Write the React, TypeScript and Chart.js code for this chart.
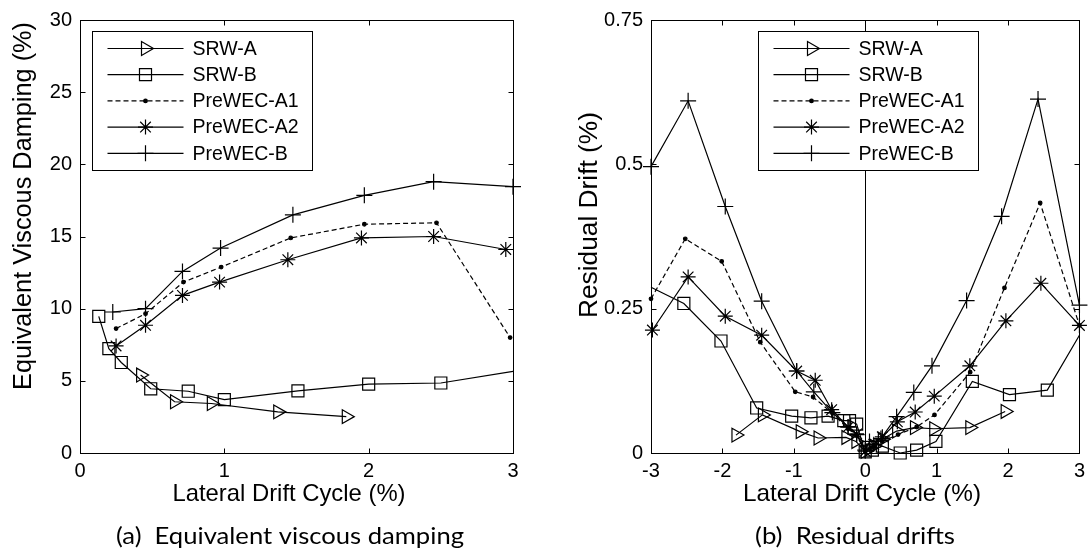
import React, { useEffect, useRef } from 'react';
import { Chart, registerables } from 'chart.js';
import { drawPoint } from 'chart.js/helpers';

Chart.register(...registerables);

// ---------- data ----------
const seriesNames = ['SRW-A', 'SRW-B', 'PreWEC-A1', 'PreWEC-A2', 'PreWEC-B'];

// (a) Equivalent viscous damping (%) vs lateral drift cycle (%)
const dampSrwAX = [0.42, 0.655, 0.91, 1.37, 1.845];
const dampSrwAY = [5.4, 3.55, 3.43, 2.85, 2.52];
const dampSrwBX = [0.13, 0.2, 0.286, 0.49, 0.75, 1.0, 1.51, 2.0, 2.5, 3.0];
const dampSrwBY = [9.47, 7.23, 6.27, 4.45, 4.28, 3.7, 4.3, 4.77, 4.85, 5.65];
const dampA1X = [0.25, 0.454, 0.717, 0.978, 1.46, 1.97, 2.47, 2.98];
const dampA1Y = [8.62, 9.65, 11.84, 12.88, 14.9, 15.85, 15.95, 8.0];
const dampA2X = [0.25, 0.454, 0.71, 0.967, 1.44, 1.95, 2.45, 2.95];
const dampA2Y = [7.42, 8.85, 10.92, 11.84, 13.39, 14.9, 15.0, 14.1];
const dampBX = [0.227, 0.454, 0.71, 0.974, 1.475, 1.97, 2.45, 3.0];
const dampBY = [9.77, 10.0, 12.58, 14.2, 16.5, 17.85, 18.8, 18.45];

// (b) Residual drift (%) vs lateral drift cycle (%)
const resSrwAX = [-1.81, -1.44, -0.91, -0.66, -0.27, -0.13, 0, 0.12, 0.24, 0.44, 0.69, 0.96, 1.465, 1.96];
const resSrwAY = [0.031, 0.066, 0.037, 0.026, 0.027, 0.02, 0.003, 0.012, 0.024, 0.038, 0.044, 0.042, 0.044, 0.072];
const resSrwBX = [-3.0, -2.54, -2.02, -1.52, -1.03, -0.76, -0.52, -0.3, -0.22, -0.12, 0, 0.1, 0.24, 0.49, 0.72, 0.99, 1.5, 2.02, 2.55, 3.0];
const resSrwBY = [0.287, 0.259, 0.194, 0.078, 0.064, 0.061, 0.064, 0.056, 0.056, 0.05, 0.002, 0.005, 0.012, 0.0, 0.005, 0.02, 0.124, 0.101, 0.109, 0.204];
const resA1X = [-3.0, -2.52, -2.01, -1.47, -0.98, -0.73, -0.47, -0.24, -0.12, 0, 0.12, 0.24, 0.46, 0.72, 0.97, 1.47, 1.95, 2.45, 3.0];
const resA1Y = [0.267, 0.371, 0.332, 0.192, 0.106, 0.097, 0.07, 0.042, 0.03, 0.003, 0.01, 0.02, 0.032, 0.045, 0.066, 0.14, 0.286, 0.433, 0.221];
const resA2X = [-2.98, -2.48, -1.96, -1.45, -0.96, -0.7, -0.47, -0.24, -0.12, 0, 0.12, 0.24, 0.45, 0.7, 0.967, 1.465, 1.97, 2.46, 3.0];
const resA2Y = [0.213, 0.305, 0.237, 0.204, 0.142, 0.126, 0.075, 0.045, 0.033, 0.003, 0.015, 0.028, 0.054, 0.071, 0.0985, 0.151, 0.229, 0.294, 0.221];
const resBX = [-3.0, -2.48, -1.96, -1.45, -0.96, -0.72, -0.46, -0.24, -0.12, 0, 0.06, 0.22, 0.44, 0.68, 0.935, 1.42, 1.91, 2.42, 3.0];
const resBY = [0.496, 0.61, 0.427, 0.263, 0.142, 0.106, 0.07, 0.045, 0.032, 0.005, 0.02, 0.025, 0.063, 0.105, 0.151, 0.264, 0.41, 0.613, 0.256];

// ticks
const dampXTicks = [0, 1, 2, 3];
const dampXLabels = ['0', '1', '2', '3'];
const dampYTicks = [0, 5, 10, 15, 20, 25, 30];
const dampYLabels = ['0', '5', '10', '15', '20', '25', '30'];
const resXTicks = [-3, -2, -1, 0, 1, 2, 3];
const resXLabels = ['-3', '-2', '-1', '0', '1', '2', '3'];
const resYTicks = [0, 0.25, 0.5, 0.75];
const resYLabels = ['0', '0.25', '0.5', '0.75'];

// texts
const xTitle = 'Lateral Drift Cycle (%)';
const dampYTitle = 'Equivalent Viscous Damping (%)';
const resYTitle = 'Residual Drift (%)';
const dampCaption = '(a)  Equivalent viscous damping';
const resCaption = '(b)  Residual drifts';

// ---------- styles ----------
const ARIAL = '"Liberation Sans", Arial, sans-serif';
const seriesStyles = [
  { pointStyle: 'triangle', rotation: 90, radius: 8, fill: 'rgba(0,0,0,0)', dash: [] as number[] },
  { pointStyle: 'rect', rotation: 0, radius: 8.5, fill: 'rgba(0,0,0,0)', dash: [] as number[] },
  { pointStyle: 'circle', rotation: 0, radius: 1.8, fill: '#000', dash: [5, 3] },
  { pointStyle: 'star', rotation: 0, radius: 7.5, fill: 'rgba(0,0,0,0)', dash: [] as number[] },
  { pointStyle: 'cross', rotation: 0, radius: 8, fill: 'rgba(0,0,0,0)', dash: [] as number[] },
];
const hideEdgeMarker = [false, true, false, false, false];

function makeDatasets(xs: number[][], ys: number[][]) {
  return seriesNames.map((name, i) => {
    const st = seriesStyles[i];
    const data = xs[i].map((x, j) => ({ x, y: ys[i][j] }));
    return {
      label: name,
      data,
      showLine: true,
      tension: 0,
      borderColor: '#000',
      borderWidth: 1.2,
      borderDash: st.dash,
      pointStyle: st.pointStyle,
      pointRotation: st.rotation,
      pointRadius: data.map((p) => (hideEdgeMarker[i] && Math.abs(p.x) >= 3 ? 0 : st.radius)),
      pointHoverRadius: st.radius,
      pointBorderColor: '#000',
      pointBackgroundColor: st.fill,
      pointBorderWidth: 1.2,
      clip: 14,
    };
  });
}

function fitText(ctx: CanvasRenderingContext2D, text: string, cx: number, cy: number, font: string, width: number, rotate = false) {
  ctx.save();
  ctx.font = font;
  const w = ctx.measureText(text).width;
  const s = width / w;
  ctx.translate(cx, cy);
  if (rotate) ctx.rotate(-Math.PI / 2);
  ctx.scale(s, 1);
  ctx.textAlign = 'center';
  ctx.textBaseline = 'middle';
  ctx.fillStyle = '#000';
  ctx.fillText(text, 0, 0);
  ctx.restore();
}

type Deco = {
  zeroLine: boolean;
  legendLeft: number;
  yTitle: string; yTitleX: number; yTitleY: number; yTitleW: number;
  xTitleX: number; xTitleW: number;
  caption: string; captionX: number; captionW: number;
};

function decoPlugin(d: Deco) {
  return {
    id: 'deco',
    beforeDatasetsDraw(chart: any) {
      const { ctx, chartArea: a, scales } = chart;
      if (d.zeroLine) {
        const px = Math.round(scales.x.getPixelForValue(0)) + 0.5;
        ctx.save();
        ctx.strokeStyle = '#000';
        ctx.lineWidth = 1;
        ctx.beginPath();
        ctx.moveTo(px, a.top);
        ctx.lineTo(px, a.bottom);
        ctx.stroke();
        ctx.restore();
      }
    },
    afterDraw(chart: any) {
      const { ctx, chartArea: a, scales } = chart;
      ctx.save();
      ctx.strokeStyle = '#000';
      ctx.lineWidth = 1;
      ctx.setLineDash([]);
      const L = Math.round(a.left) + 0.5, R = Math.round(a.right) + 0.5;
      const T = Math.round(a.top) + 0.5, B = Math.round(a.bottom) + 0.5;
      ctx.strokeRect(L, T, R - L, B - T);
      const tl = 5;
      ctx.beginPath();
      scales.x.ticks.forEach((t: any) => {
        const px = Math.round(scales.x.getPixelForValue(t.value)) + 0.5;
        ctx.moveTo(px, B); ctx.lineTo(px, B - tl);
        ctx.moveTo(px, T); ctx.lineTo(px, T + tl);
      });
      scales.y.ticks.forEach((t: any) => {
        const py = Math.round(scales.y.getPixelForValue(t.value)) + 0.5;
        ctx.moveTo(L, py); ctx.lineTo(L + tl, py);
        ctx.moveTo(R, py); ctx.lineTo(R - tl, py);
      });
      ctx.stroke();

      // legend
      const lx = d.legendLeft + 0.5, ly = 31.5, lw = 220, lh = 139;
      ctx.fillStyle = '#fff';
      ctx.fillRect(lx, ly, lw, lh);
      ctx.strokeRect(lx, ly, lw, lh);
      seriesNames.forEach((name, i) => {
        const st = seriesStyles[i];
        const ry = 48.5 + i * 26.2;
        ctx.save();
        ctx.strokeStyle = '#000';
        ctx.lineWidth = 1.2;
        ctx.setLineDash(st.dash);
        ctx.beginPath();
        ctx.moveTo(lx + 15, ry);
        ctx.lineTo(lx + 91, ry);
        ctx.stroke();
        ctx.setLineDash([]);
        ctx.fillStyle = st.fill;
        drawPoint(ctx, { pointStyle: st.pointStyle as any, rotation: st.rotation, radius: st.radius, borderWidth: 1.2 }, lx + 53, ry);
        ctx.restore();
        ctx.fillStyle = '#000';
        ctx.font = `19.5px ${ARIAL}`;
        ctx.textAlign = 'left';
        ctx.textBaseline = 'middle';
        ctx.fillText(name, lx + 100, ry + 1);
      });
      ctx.restore();

      // titles
      fitText(ctx, d.yTitle, d.yTitleX, d.yTitleY, `25px ${ARIAL}`, d.yTitleW, true);
      fitText(ctx, xTitle, d.xTitleX, 494, `24px ${ARIAL}`, d.xTitleW);
      fitText(ctx, d.caption, d.captionX, 536, `24px Lato, "Open Sans", sans-serif`, d.captionW);
    },
  };
}

function makeConfig(opts: {
  xs: number[][]; ys: number[][];
  xmin: number; xmax: number; ymin: number; ymax: number;
  xTicks: number[]; xLabels: string[]; yTicks: number[]; yLabels: string[];
  yAxisW: number; padRight: number; deco: Deco;
}) {
  const tickFont = { family: ARIAL, size: 20 };
  return {
    type: 'scatter' as const,
    data: { datasets: makeDatasets(opts.xs, opts.ys) },
    options: {
      responsive: false,
      animation: false as const,
      devicePixelRatio: 1,
      events: [] as any[],
      layout: { padding: { top: 19, right: opts.padRight, left: 0, bottom: 0 } },
      plugins: { legend: { display: false }, tooltip: { enabled: false } },
      scales: {
        x: {
          type: 'linear' as const,
          min: opts.xmin,
          max: opts.xmax,
          grid: { display: false, drawTicks: false },
          border: { display: false },
          ticks: {
            color: '#000',
            font: tickFont,
            padding: 6,
            maxRotation: 0,
            autoSkip: false,
            callback: (_v: any, i: number) => opts.xLabels[i],
          },
          afterBuildTicks: (s: any) => { s.ticks = opts.xTicks.map((v) => ({ value: v })); },
          afterFit: (s: any) => { s.height = 101; },
        },
        y: {
          type: 'linear' as const,
          min: opts.ymin,
          max: opts.ymax,
          grid: { display: false, drawTicks: false },
          border: { display: false },
          ticks: {
            color: '#000',
            font: tickFont,
            padding: 8,
            autoSkip: false,
            callback: (_v: any, i: number) => opts.yLabels[i],
          },
          afterBuildTicks: (s: any) => { s.ticks = opts.yTicks.map((v) => ({ value: v })); },
          afterFit: (s: any) => { s.width = opts.yAxisW; },
        },
      },
    },
    plugins: [decoPlugin(opts.deco)],
  };
}

export default function App() {
  const leftRef = useRef<HTMLCanvasElement>(null);
  const rightRef = useRef<HTMLCanvasElement>(null);

  useEffect(() => {
    const left = new Chart(leftRef.current!, makeConfig({
      xs: [dampSrwAX, dampSrwBX, dampA1X, dampA2X, dampBX],
      ys: [dampSrwAY, dampSrwBY, dampA1Y, dampA2Y, dampBY],
      xmin: 0, xmax: 3, ymin: 0, ymax: 30,
      xTicks: dampXTicks, xLabels: dampXLabels, yTicks: dampYTicks, yLabels: dampYLabels,
      yAxisW: 80, padRight: 32,
      deco: {
        zeroLine: false, legendLeft: 92,
        yTitle: dampYTitle, yTitleX: 24, yTitleY: 206, yTitleW: 368,
        xTitleX: 289, xTitleW: 233,
        caption: dampCaption, captionX: 290, captionW: 348,
      },
    }) as any);
    const right = new Chart(rightRef.current!, makeConfig({
      xs: [resSrwAX, resSrwBX, resA1X, resA2X, resBX],
      ys: [resSrwAY, resSrwBY, resA1Y, resA2Y, resBY],
      xmin: -3, xmax: 3, ymin: 0, ymax: 0.75,
      xTicks: resXTicks, xLabels: resXLabels, yTicks: resYTicks, yLabels: resYLabels,
      yAxisW: 106, padRight: 7,
      deco: {
        zeroLine: true, legendLeft: 213,
        yTitle: resYTitle, yTitleX: 45, yTitleY: 215, yTitleW: 206,
        xTitleX: 317, xTitleW: 238,
        caption: resCaption, captionX: 310, captionW: 200,
      },
    }) as any);
    return () => { left.destroy(); right.destroy(); };
  }, []);

  return (
    <div style={{ position: 'absolute', left: 0, top: 0, width: 1091, height: 554, background: '#fff', overflow: 'hidden' }}>
      <canvas ref={leftRef} width={545} height={554} style={{ position: 'absolute', left: 0, top: 0 }} />
      <canvas ref={rightRef} width={546} height={554} style={{ position: 'absolute', left: 545, top: 0 }} />
    </div>
  );
}
